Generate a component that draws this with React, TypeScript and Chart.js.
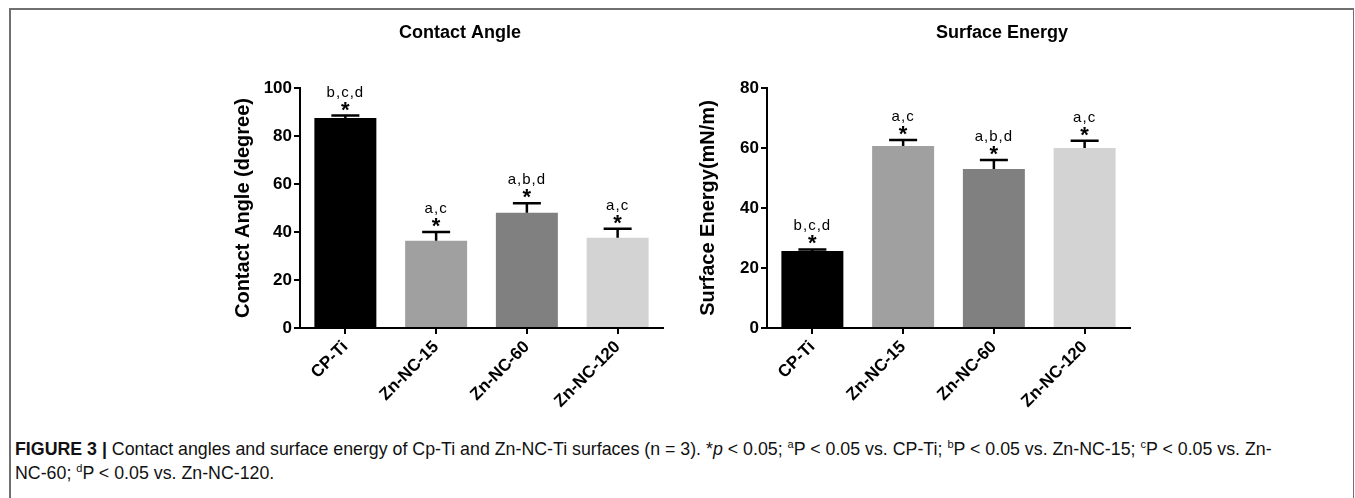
import React, { useEffect, useRef } from "react";
import { Chart, registerables } from "chart.js";

Chart.register(...registerables);

// ---------- data ----------
const categories = ["CP-Ti", "Zn-NC-15", "Zn-NC-60", "Zn-NC-120"];
const barColors = ["#000000", "#a0a0a0", "#808080", "#d3d3d3"];

const contactAngle = [87.5, 36.4, 48.0, 37.6];
const contactAngleErr = [1.0, 3.6, 4.0, 3.8];
const contactAngleSig = ["b,c,d", "a,c", "a,b,d", "a,c"];
const contactTicks = [0, 20, 40, 60, 80, 100];

const surfaceEnergy = [25.7, 60.7, 53.0, 60.0];
const surfaceEnergyErr = [0.5, 2.0, 3.0, 2.4];
const surfaceEnergySig = ["b,c,d", "a,c", "a,b,d", "a,c"];
const energyTicks = [0, 20, 40, 60, 80];

const FONT = "'Liberation Sans', Arial, Helvetica, sans-serif";

const errorPlugin = {
  id: "errAnnot",
  afterDatasetsDraw(chart: any, _args: any, opts: any) {
    const { ctx } = chart;
    const meta = chart.getDatasetMeta(0);
    const ys = chart.scales.y;
    meta.data.forEach((bar: any, i: number) => {
      const x = bar.x;
      const yTop = ys.getPixelForValue(opts.values[i]);
      const yErr = ys.getPixelForValue(opts.values[i] + opts.errors[i]);
      ctx.save();
      ctx.strokeStyle = "#000";
      ctx.lineWidth = 2.5;
      ctx.beginPath();
      ctx.moveTo(x, yTop);
      ctx.lineTo(x, yErr);
      ctx.moveTo(x - 14, yErr);
      ctx.lineTo(x + 14, yErr);
      ctx.stroke();
      ctx.fillStyle = "#000";
      ctx.textAlign = "center";
      ctx.textBaseline = "alphabetic";
      ctx.font = `bold 22px ${FONT}`;
      ctx.fillText("*", x, yErr + 1);
      ctx.font = `15px ${FONT}`;
      (ctx as any).letterSpacing = "1px";
      ctx.fillText(opts.sig[i], x, yErr - 19);
      ctx.restore();
    });
  },
};

const titlePlugin = {
  id: "panelTitle",
  afterDraw(chart: any, _args: any, opts: any) {
    const { ctx } = chart;
    ctx.save();
    ctx.fillStyle = "#000";
    ctx.font = `bold 18px ${FONT}`;
    ctx.textAlign = "center";
    ctx.textBaseline = "middle";
    ctx.fillText(opts.text, opts.x, opts.y);
    ctx.restore();
  },
};

type PanelProps = {
  left: number;
  top: number;
  width: number;
  height: number;
  yWidth: number;
  xHeight: number;
  padTop: number;
  padRight: number;
  values: number[];
  errors: number[];
  sig: string[];
  ticks: number[];
  yTitle: string;
  yTitlePad: number;
  title: string;
  titleX: number;
  titleY: number;
};

function Panel(p: PanelProps) {
  const ref = useRef<HTMLCanvasElement>(null);
  useEffect(() => {
    if (!ref.current) return;
    const chart = new Chart(ref.current, {
      type: "bar",
      data: {
        labels: categories,
        datasets: [
          {
            data: p.values,
            backgroundColor: barColors,
            borderWidth: 0,
            categoryPercentage: 1,
            barPercentage: 0.683,
          },
        ],
      },
      plugins: [errorPlugin, titlePlugin],
      options: {
        responsive: false,
        animation: false,
        devicePixelRatio: 1,
        layout: { padding: { top: p.padTop, right: p.padRight, left: 0, bottom: 0 } },
        plugins: {
          legend: { display: false },
          tooltip: { enabled: false },
          errAnnot: { values: p.values, errors: p.errors, sig: p.sig },
          panelTitle: { text: p.title, x: p.titleX, y: p.titleY },
        } as any,
        scales: {
          x: {
            offset: true,
            grid: {
              display: true,
              offset: false,
              drawOnChartArea: false,
              drawTicks: true,
              tickLength: 6,
              color: "#000",
              lineWidth: 2,
            },
            border: { display: true, color: "#000", width: 2 },
            ticks: {
              minRotation: 45,
              maxRotation: 45,
              padding: 3,
              color: "#000",
              font: { family: FONT, size: 17, weight: "bold" },
            },
            afterFit: (s: any) => {
              s.height = p.xHeight;
            },
          },
          y: {
            min: 0,
            max: p.ticks[p.ticks.length - 1],
            afterBuildTicks: (s: any) => {
              s.ticks = p.ticks.map((v) => ({ value: v }));
            },
            grid: {
              display: true,
              drawOnChartArea: false,
              drawTicks: true,
              tickLength: 6,
              color: "#000",
              lineWidth: 2,
            },
            border: { display: true, color: "#000", width: 2 },
            ticks: {
              padding: 2,
              color: "#000",
              font: { family: FONT, size: 17, weight: "bold" },
            },
            title: {
              display: true,
              text: p.yTitle,
              color: "#000",
              font: { family: FONT, size: 20, weight: "bold" },
              padding: { top: p.yTitlePad, bottom: 0 },
            },
            afterFit: (s: any) => {
              s.width = p.yWidth;
            },
          },
        },
      } as any,
    });
    return () => chart.destroy();
  }, []);
  return (
    <canvas
      ref={ref}
      width={p.width}
      height={p.height}
      style={{ position: "absolute", left: p.left, top: p.top, width: p.width, height: p.height }}
    />
  );
}

const supStyle: React.CSSProperties = {
  fontSize: 11,
  lineHeight: 0,
  verticalAlign: "baseline",
  position: "relative",
  top: "-0.6em",
};

export default function App() {
  return (
    <div
      style={{
        position: "absolute",
        left: 0,
        top: 0,
        width: 1355,
        height: 498,
        overflow: "hidden",
        background: "#fff",
      }}
    >
      <div
        style={{
          position: "absolute",
          left: 9,
          top: 8,
          width: 1342,
          height: 520,
          borderTop: "2px solid #707070",
          borderLeft: "2px solid #707070",
          borderRight: "1px solid #707070",
        }}
      />
      <Panel
        left={180}
        top={10}
        width={500}
        height={410}
        yWidth={120}
        xHeight={92}
        padTop={78}
        padRight={17}
        values={contactAngle}
        errors={contactAngleErr}
        sig={contactAngleSig}
        ticks={contactTicks}
        yTitle="Contact Angle (degree)"
        yTitlePad={51}
        title="Contact Angle"
        titleX={280}
        titleY={23}
      />
      <Panel
        left={690}
        top={10}
        width={460}
        height={410}
        yWidth={77}
        xHeight={92}
        padTop={78}
        padRight={20}
        values={surfaceEnergy}
        errors={surfaceEnergyErr}
        sig={surfaceEnergySig}
        ticks={energyTicks}
        yTitle="Surface Energy(mN/m)"
        yTitlePad={6}
        title="Surface Energy"
        titleX={312}
        titleY={23}
      />
      <div
        style={{
          position: "absolute",
          left: 15,
          top: 437,
          fontFamily: FONT,
          fontSize: 17.8,
          lineHeight: "24px",
          color: "#111",
          whiteSpace: "nowrap",
        }}
      >
        <b>FIGURE 3 |</b> Contact angles and surface energy of Cp-Ti and Zn-NC-Ti surfaces (n = 3). *
        <i>p</i> &lt; 0.05; <sup style={supStyle}>a</sup>P &lt; 0.05 vs. CP-Ti;{" "}
        <sup style={supStyle}>b</sup>P &lt; 0.05 vs. Zn-NC-15;{" "}
        <sup style={supStyle}>c</sup>P &lt; 0.05 vs. Zn-
        <br />
        NC-60; <sup style={supStyle}>d</sup>P &lt; 0.05 vs. Zn-NC-120.
      </div>
    </div>
  );
}
